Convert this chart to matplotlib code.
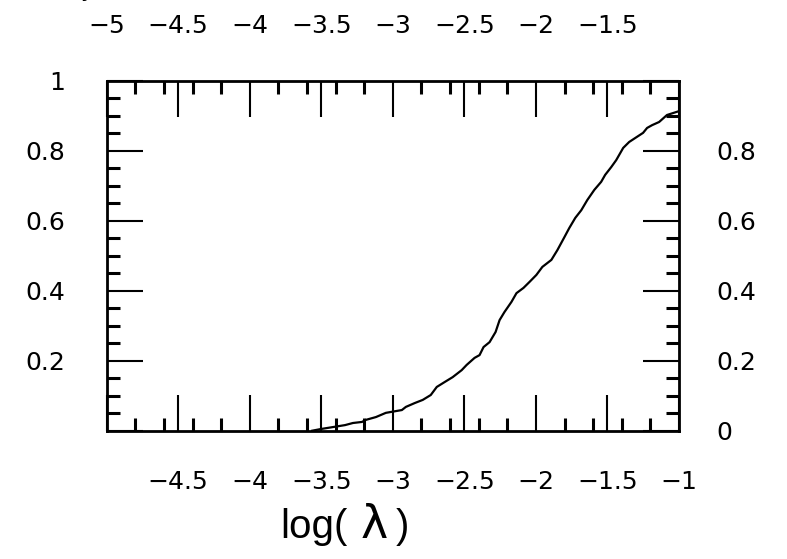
import numpy as np
import matplotlib
matplotlib.use("Agg")
import matplotlib.pyplot as plt
from matplotlib.ticker import FixedLocator

# curve: log(lambda) vs cumulative fraction
log_lam = [-3.564, -3.50, -3.334, -3.279, -3.216, -3.188, -3.118, -3.049, -2.937,
           -2.909, -2.847, -2.791, -2.735, -2.693, -2.638, -2.582, -2.519, -2.484,
           -2.429, -2.394, -2.366, -2.324, -2.282, -2.254, -2.220, -2.171, -2.136,
           -2.087, -2.045, -1.997, -1.955, -1.892, -1.850, -1.801, -1.767, -1.725,
           -1.683, -1.641, -1.592, -1.544, -1.516, -1.474, -1.439, -1.390, -1.348,
           -1.307, -1.251, -1.223, -1.188, -1.139, -1.084, -1.000]
frac = [0.000, 0.005, 0.016, 0.022, 0.025, 0.031, 0.039, 0.051, 0.059,
        0.068, 0.079, 0.088, 0.102, 0.125, 0.139, 0.153, 0.173, 0.188,
        0.208, 0.216, 0.239, 0.253, 0.282, 0.316, 0.339, 0.368, 0.393,
        0.408, 0.425, 0.445, 0.468, 0.488, 0.516, 0.553, 0.579, 0.608,
        0.630, 0.659, 0.688, 0.711, 0.731, 0.753, 0.773, 0.808, 0.825,
        0.836, 0.851, 0.865, 0.873, 0.882, 0.902, 0.913]

x_major = [-5, -4.5, -4, -3.5, -3, -2.5, -2, -1.5, -1]
x_minor = [-4.8, -4.6, -4.4, -4.2, -3.8, -3.6, -3.4, -3.2, -2.8, -2.6, -2.4,
           -2.2, -1.8, -1.6, -1.4, -1.2]
bottom_labels = ["", "−4.5", "−4", "−3.5", "−3", "−2.5", "−2", "−1.5", "−1"]
top_labels = ["−5", "−4.5", "−4", "−3.5", "−3", "−2.5", "−2", "−1.5", ""]

y_major = [0, 0.2, 0.4, 0.6, 0.8, 1]
y_minor = [0.05, 0.1, 0.15, 0.25, 0.3, 0.35, 0.45, 0.5, 0.55, 0.65, 0.7, 0.75,
           0.85, 0.9, 0.95]
left_labels = ["", "0.2", "0.4", "0.6", "0.8", "1"]
right_labels = ["0", "0.2", "0.4", "0.6", "0.8", ""]

W, H = 787, 559
fig = plt.figure(figsize=(W / 100, H / 100), dpi=100)
ax = fig.add_axes([106.7 / W, (H - 430.7) / H, (679 - 106.7) / W, (430.7 - 80.7) / H])

ax.plot(log_lam, frac, color="black", lw=1.6)
ax.set_xlim(-5, -1)
ax.set_ylim(0, 1)

for s in ax.spines.values():
    s.set_linewidth(2)

fs = 18
ax.xaxis.set_major_locator(FixedLocator(x_major))
ax.xaxis.set_minor_locator(FixedLocator(x_minor))
ax.yaxis.set_major_locator(FixedLocator(y_major))
ax.yaxis.set_minor_locator(FixedLocator(y_minor))
ax.set_xticklabels(bottom_labels)
ax.set_yticklabels(left_labels)
ax.tick_params(which="both", direction="in", top=True, right=True, colors="black")
ax.tick_params(which="major", length=26, width=1.5)
ax.tick_params(which="minor", length=9.5, width=2.2)
ax.tick_params(axis="x", which="major", labelsize=fs, pad=28)
ax.tick_params(axis="y", which="major", labelsize=fs, pad=30)

top = ax.secondary_xaxis("top")
top.set_xticks(x_major, labels=top_labels)
top.tick_params(length=0, labelsize=fs, pad=31)
top.spines["top"].set_visible(False)

right = ax.secondary_yaxis("right")
right.set_yticks(y_major, labels=right_labels)
right.tick_params(length=0, labelsize=fs, pad=27)
right.spines["right"].set_visible(False)
for lab in right.get_yticklabels():
    lab.set_horizontalalignment("left")

# x label: log( λ ) with the bigger lambda
base = (H - 538) / H
fig.text(280 / W, base, "log(", fontsize=29, family="Liberation Sans",
         va="baseline", ha="left")
fig.text(374 / W, base, "λ", fontsize=33, family="DejaVu Sans",
         va="baseline", ha="center")
fig.text(409 / W, base, ")", fontsize=29, family="Liberation Sans",
         va="baseline", ha="right")

# clipped glyph at the very top left
fig.text(80 / W, 1 + 3 / H, "y", fontsize=16, va="baseline", ha="left")

fig.savefig("out.png", dpi=100)
